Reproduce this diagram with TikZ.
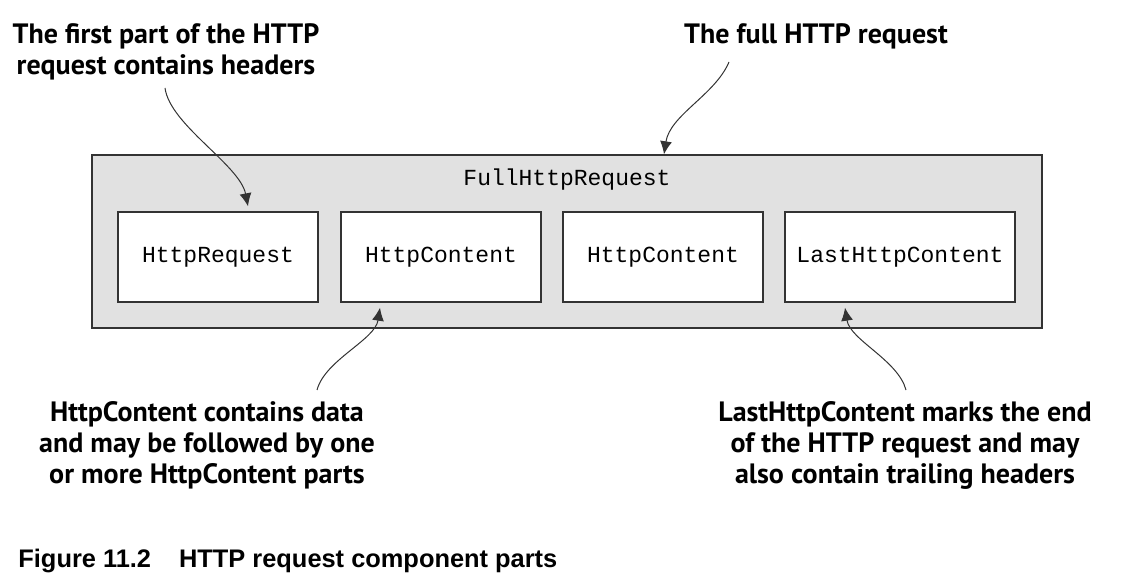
\documentclass[tikz,border=0pt]{standalone}
\usepackage{fontspec}
\usepackage{xcolor}
\usepackage{tikz}
\usetikzlibrary{arrows.meta}

\newfontfamily\notefont{PT Sans}
\newfontfamily\codefont{Liberation Mono}
\newfontfamily\capfont{Liberation Sans}

\definecolor{boxgray}{HTML}{E1E1E1}
\definecolor{edge}{HTML}{333333}

\tikzset{
  part/.style={draw=edge, line width=0.7pt, fill=white, minimum width=100pt,
    minimum height=45pt, font=\codefont\fontsize{11.5}{13}\selectfont},
  note/.style={align=center, inner sep=0pt,
    font=\notefont\bfseries\fontsize{14}{15.5}\selectfont},
  pointer/.style={-{Latex[length=6.5pt,width=6pt]}, line width=0.5pt, edge},
}

\begin{document}
\begin{tikzpicture}[x=0.5pt, y=-0.5pt]
      \useasboundingbox (0, 0) rectangle (1128, 582);
      % the whole request
      \node[draw=edge, line width=0.7pt, fill=boxgray, minimum width=475pt,
        minimum height=86.5pt] (full) at (567, 241.5) {};
      \node[font=\codefont\fontsize{11.5}{13}\selectfont] (fulltitle) at (567, 180) {FullHttpRequest};
      \node[part] (req) at (218, 257) {HttpRequest};
      \node[part] (cont1) at (441, 257) {HttpContent};
      \node[part] (cont2) at (663, 257) {HttpContent};
      \node[part, minimum width=115pt] (last) at (900, 257) {LastHttpContent};

      % notes
      \node[note] (headnote) at (166, 52) {The first part of the HTTP\\request contains headers};
      \node[note] (fullnote) at (816, 36) {The full HTTP request};
      \node[note] (contnote) at (207, 445) {HttpContent contains data\\and may be followed by one\\or more HttpContent parts};
      \node[note] (lastnote) at (905, 445) {LastHttpContent marks the end\\of the HTTP request and may\\also contain trailing headers};
      \coordinate (headfoot) at (165, 88);
      \coordinate (fullfoot) at (729, 62);
      \coordinate (contfoot) at (317, 390);
      \coordinate (lastfoot) at (906, 390);

      \draw[pointer] (headfoot) .. controls (170, 125) and (240, 165) .. ([xshift=15pt, yshift=2.5pt]req.north);
      \draw[pointer] (fullfoot) .. controls (715, 95) and (670, 115) .. ([xshift=48.5pt]full.north);
      \draw[pointer] (contfoot) .. controls (325, 360) and (375, 340) .. ([xshift=-30.5pt, yshift=-2.5pt]cont1.south);
      \draw[pointer] (lastfoot) .. controls (898, 360) and (850, 340) .. ([xshift=-27.5pt, yshift=-2.5pt]last.south);

      % caption
      \node[anchor=base west, inner sep=0pt, font=\capfont\bfseries\fontsize{12.7}{14}\selectfont] (caption) at (18, 567) {Figure 11.2\hspace{14pt}HTTP request component parts};
    \end{tikzpicture}
\end{document}
